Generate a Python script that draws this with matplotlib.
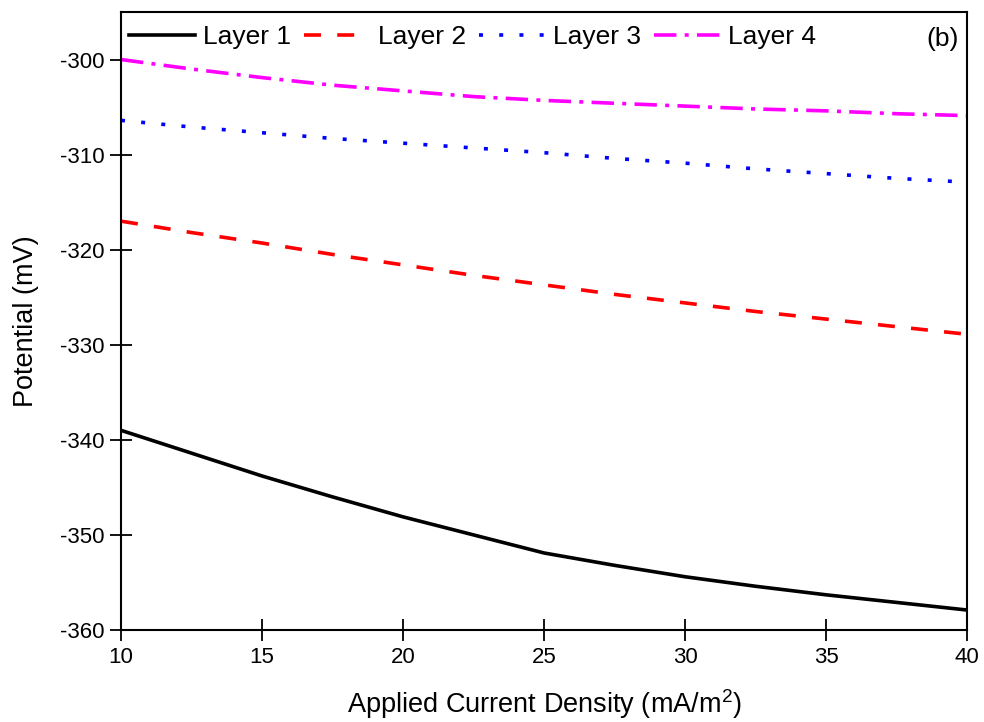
import matplotlib
matplotlib.use("Agg")
import matplotlib.pyplot as plt

plt.rcParams['font.family'] = ['Liberation Sans', 'DejaVu Sans']
plt.rcParams['axes.unicode_minus'] = False

# data
current = [10, 12.5, 15, 17.5, 20, 22.5, 25, 27.5, 30, 32.5, 35, 37.5, 40]
layer1 = [-339.0, -341.4, -343.8, -346.0, -348.1, -350.0, -351.9, -353.2, -354.4, -355.4, -356.3, -357.1, -357.9]
layer2 = [-317.0, -318.2, -319.3, -320.5, -321.6, -322.7, -323.7, -324.7, -325.6, -326.5, -327.3, -328.1, -328.9]
layer3 = [-306.4, -307.1, -307.7, -308.3, -308.8, -309.3, -309.8, -310.4, -310.9, -311.5, -312.0, -312.5, -312.9]
layer4 = [-300.0, -301.0, -301.9, -302.7, -303.3, -303.9, -304.3, -304.6, -304.9, -305.2, -305.4, -305.7, -305.9]
labels = ["Layer 1", "Layer 2", "Layer 3", "Layer 4"]

fig = plt.figure(figsize=(9.84, 7.22), dpi=100)
ax = fig.add_axes([0.123, 0.1274, 0.86, 0.856])

lw = 2.6
ax.plot(current, layer1, color='black', lw=lw, label=labels[0])
ax.plot(current, layer2, color='red', lw=lw, dashes=(4.7, 4.5), label=labels[1])
ax.plot(current, layer3, color='blue', lw=lw, dashes=(1.1, 4.5), label=labels[2])
ax.plot(current, layer4, color='magenta', lw=lw, dashes=(6.2, 2.3, 1.1, 2.3), label=labels[3])

ax.set_xlim(10, 40)
ax.set_ylim(-360, -295)
ax.set_xticks([10, 15, 20, 25, 30, 35, 40])
ax.set_yticks([-360, -350, -340, -330, -320, -310, -300])
ax.tick_params(direction='inout', length=16, width=1.3, labelsize=16, pad=4)
for s in ax.spines.values():
    s.set_linewidth(1.5)

ax.set_xlabel("Applied Current Density (mA/m$^\\mathregular{2}$)", fontsize=19.5, labelpad=14)
ax.set_ylabel("Potential (mV)", fontsize=19.5, labelpad=15)

ax.legend(loc='upper left', bbox_to_anchor=(0.0, 0.991), ncol=4, frameon=False,
          fontsize=19, handlelength=2.5, handletextpad=0.3, columnspacing=0.5,
          borderaxespad=0.1, borderpad=0.2)
ax.text(0.99, 0.975, "(b)", transform=ax.transAxes, ha='right', va='top', fontsize=19)

fig.savefig("out.png", dpi=100)
